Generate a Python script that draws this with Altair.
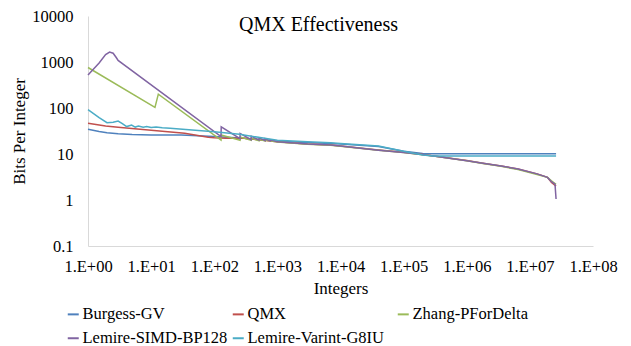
import altair as alt
import pandas as pd

series_names = ["Burgess-GV", "QMX", "Zhang-PForDelta", "Lemire-SIMD-BP128", "Lemire-Varint-G8IU"]
series_colors = ["#4F81BD", "#C0504D", "#9BBB59", "#8064A2", "#4BACC6"]

burgess_n = [1, 1.5, 2, 3, 5, 10, 30, 100, 300, 1000, 7000, 1e4, 4e4, 1e5, 2e5, 3e5, 2.6e7]
burgess_bits = [34.5, 31, 29, 27.5, 26.5, 26, 26, 24, 22, 19, 17, 16.5, 14.5, 11.5, 10.2, 10.1, 10.1]

qmx_n = [1, 1.9, 3, 10, 34, 80, 100, 150, 300, 1000, 3000, 7000, 1e4, 4e4, 1e5, 2e5, 3e5,
         1e6, 1.8e6, 3.5e6, 6.5e6, 1.3e7, 1.9e7, 2.2e7, 2.6e7]
qmx_bits = [46.5, 40.5, 38, 33, 28.2, 23, 22.5, 22, 22, 18.5, 16.5, 15.7, 15, 12.2, 10.9, 9.7, 9.06,
            7.2, 6.3, 5.5, 4.7, 3.7, 3.1, 2.4, 2.0]

zhang_n = [1, 11.5, 13, 128, 129, 256, 257, 384, 385, 512, 513, 640, 641, 1000, 3000, 7000, 1e4,
           4e4, 1e5, 2e5, 3e5, 1e6, 1.8e6, 3.5e6, 6.5e6, 1.3e7, 1.9e7, 2.2e7, 2.6e7]
zhang_bits = [760, 103, 200, 20, 26, 20, 23.5, 19.8, 22, 19.5, 21, 19.2, 20.2, 18.3, 16.3, 15.5, 14.8,
              12.1, 10.8, 9.6, 9.0, 7.1, 6.2, 5.4, 4.6, 3.6, 3.1, 2.6, 2.2]

simd_n = [1, 1.5, 1.9, 2.2, 2.5, 2.8, 3, 128, 129, 256, 257, 384, 385, 512, 513, 640, 641, 768, 769,
          1000, 3000, 7000, 1e4, 4e4, 1e5, 2e5, 3e5, 1e6, 1.8e6, 3.5e6, 6.5e6, 1.3e7, 1.9e7, 2.2e7,
          2.5e7, 2.6e7]
simd_bits = [520, 950, 1450, 1650, 1550, 1250, 1080, 24, 39, 21.5, 28, 20.5, 24.5, 20, 22.5, 19.5,
             21.5, 19.3, 20.5, 18.5, 16.4, 15.6, 14.9, 12.1, 10.8, 9.7, 9.0, 7.1, 6.3, 5.5, 4.7, 3.7,
             3.1, 2.5, 2.2, 1.05]

varint_n = [1, 1.5, 2, 2.5, 3, 3.5, 4.1, 4.9, 5.6, 6.3, 7.5, 8.5, 10, 12, 15, 20, 50, 100, 250, 500,
            1000, 3000, 7000, 1e4, 4e4, 1e5, 2e5, 3e5, 2.6e7]
varint_bits = [92, 62, 48, 49, 52, 46, 39.5, 42.5, 38.5, 40.5, 38, 39.5, 37.5, 38.5, 37, 36.5, 33,
               30.5, 27, 23, 20, 18.5, 17.6, 17, 15, 11.5, 9.5, 9.1, 9.1]

x_ticks = [1, 10, 100, 1000, 1e4, 1e5, 1e6, 1e7, 1e8]
y_ticks = [0.1, 1, 10, 100, 1000, 10000]

rows = []
for name, ns, bs in [
    (series_names[0], burgess_n, burgess_bits),
    (series_names[1], qmx_n, qmx_bits),
    (series_names[2], zhang_n, zhang_bits),
    (series_names[3], simd_n, simd_bits),
    (series_names[4], varint_n, varint_bits),
]:
    for n, b in zip(ns, bs):
        rows.append({"series": name, "n": n, "bits": b})
df = pd.DataFrame(rows)

FONT = "Liberation Serif"

chart = alt.Chart(df).mark_line(strokeWidth=1.5).encode(
    x=alt.X("n:Q",
            scale=alt.Scale(type="log", domain=[1, 1e8], nice=False),
            axis=alt.Axis(values=x_ticks, title="Integers",
                          labelExpr="'1.E+' + format(round(log(datum.value)/LN10), '02d')",
                          labelPadding=12, labelOverlap=False, labelFlush=False,
                          titleX=252.5, titleY=42, titleBaseline="middle")),
    y=alt.Y("bits:Q",
            scale=alt.Scale(type="log", domain=[0.1, 10000], nice=False),
            axis=alt.Axis(values=y_ticks, title="Bits Per Integer",
                          labelExpr="format(datum.value, '~g')",
                          labelPadding=15, labelOverlap=False, labelFlush=False,
                          titleX=-68.5, titleY=115, titleBaseline="middle",
                          titleAlign="center", titleAngle=270)),
    color=alt.Color("series:N",
                    scale=alt.Scale(domain=series_names, range=series_colors),
                    legend=alt.Legend(title=None, orient="none", legendX=-23, legendY=290,
                                      direction="horizontal", columns=3, gridAlign="all",
                                      symbolType="stroke", symbolSize=121, symbolStrokeWidth=2,
                                      labelFontSize=16.5, labelFont=FONT, labelColor="#000000",
                                      labelOffset=1, labelLimit=400, columnPadding=0,
                                      rowPadding=7, padding=0)),
    order=alt.Order("n:Q"),
).properties(
    width=505,
    height=230,
    autosize=alt.AutoSizeParams(type="none"),
    padding={"left": 80, "top": 8, "right": 30, "bottom": 100},
    title=alt.TitleParams("QMX Effectiveness", font=FONT, fontSize=20, fontWeight="normal",
                          color="#000000", anchor="middle", frame="group", baseline="alphabetic",
                          offset=-43, dx=-22),
).configure_view(stroke=None).configure_axis(
    grid=False, ticks=False, tickSize=0, domainColor="#d9d9d9", domainWidth=1,
    labelFont=FONT, labelFontSize=16.5, labelColor="#000000",
    titleFont=FONT, titleFontSize=17, titleFontWeight="normal", titleColor="#000000",
)

chart.save("out.html", embed_options={"renderer": "svg", "actions": False})
